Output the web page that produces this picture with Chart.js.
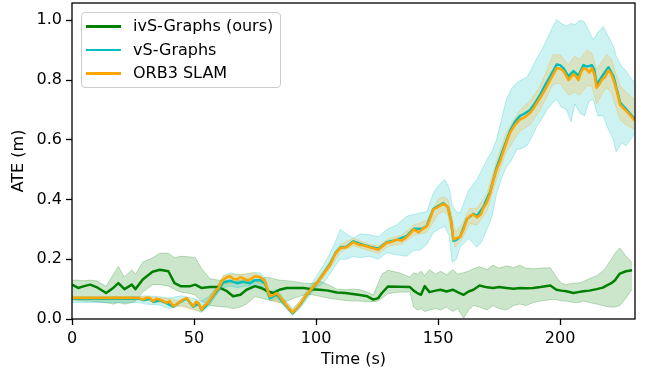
<!DOCTYPE html>
<html lang="en">
<head>
<meta charset="UTF-8">
<title>ATE over time</title>
<style>
    body { margin: 0; background: #fff; }
    #wrap { position: relative; width: 646px; height: 374px; }
    #legend {
        position: absolute; left: 81px; top: 12px; width: 200px; height: 76px;
        border: 1px solid #cccccc; border-radius: 4px; background: rgba(255,255,255,0.8);
        font-family: "DejaVu Sans", sans-serif; font-size: 16px; color: #000;
        box-sizing: border-box;
    }
    #legend .row { position: absolute; left: 0; height: 20px; width: 100%; }
    #legend .swatch { position: absolute; left: 4px; top: 9px; width: 35px; height: 2.5px; }
    #legend .txt { position: absolute; left: 51px; top: 0; line-height: 20px; white-space: nowrap; }
</style>
</head>
<body>
<div id="wrap">
    <canvas id="ate_chart" width="646" height="374"></canvas>
    <div id="legend"></div>
</div>

<script src="https://cdn.jsdelivr.net/npm/chart.js"></script>
<script>
// ---- data: [time (s), ATE (m)] ----
var ivsMean = [[0,.115],[2.5,.104],[5,.11],[7.5,.115],[10,.107],[14,.087],[17,.105],[19,.12],[21.5,.10],[24.5,.115],[26,.10],[29,.132],[33,.158],[36,.165],[39.5,.16],[42,.12],[44.5,.11],[48.5,.11],[50.5,.115],[53,.104],[56.5,.107],[60,.107],[63.5,.093],[66,.076],[69,.081],[71.5,.098],[75,.11],[77.5,.104],[80,.093],[82.5,.087],[85,.098],[88,.104],[91,.104],[95,.104],[98,.10],[101.5,.098],[105,.095],[108.5,.089],[112,.087],[115,.084],[118,.08],[121,.076],[123.5,.065],[125.5,.07],[127,.087],[129.5,.109],[134,.108],[138.5,.107],[140,.095],[141.5,.087],[143,.081],[144.5,.11],[146.5,.09],[149,.095],[151,.098],[153.5,.092],[156,.098],[158,.09],[160.5,.081],[162.5,.092],[164.5,.098],[167,.112],[170,.106],[172.5,.104],[175,.107],[178,.104],[181,.101],[183.5,.104],[186,.103],[189,.104],[192,.107],[196,.112],[198.5,.098],[200.5,.095],[202.5,.093],[205.5,.087],[207.5,.09],[209.5,.093],[212,.095],[215,.10],[217.5,.105],[219,.112],[221,.12],[222.5,.13],[224.5,.152],[227,.16],[229.5,.163]];

var vsMean = [[0,.068],[27.5,.068],[29.2,.063],[32,.068],[33.3,.057],[36,.063],[38.8,.052],[41.5,.041],[44.3,.057],[47,.068],[49.7,.041],[51.8,.052],[53.1,.03],[55.2,.046],[57.9,.078],[60,.1],[62,.122],[64.8,.128],[67.5,.12],[70.2,.125],[73,.12],[75,.13],[77,.13],[79.1,.12],[81.1,.07],[83.9,.082],[86.6,.055],[88.7,.035],[90.4,.02],[93.4,.046],[96.2,.08],[100.3,.12],[103,.152],[105.7,.183],[108,.222],[110,.24],[112.5,.242],[115.3,.26],[119.4,.248],[122,.242],[125.5,.235],[129,.257],[133,.265],[137.2,.278],[140,.302],[143.5,.302],[145.4,.312],[148,.368],[150,.378],[152.2,.388],[154,.375],[155.3,.33],[156.3,.262],[157.5,.265],[159,.275],[161.8,.335],[164.5,.352],[166,.345],[168.6,.376],[171.3,.425],[174,.507],[176.8,.57],[179.5,.63],[181.5,.66],[183.6,.68],[185.5,.688],[187.7,.70],[189.5,.72],[191.8,.75],[194,.785],[195.9,.812],[198.6,.852],[200,.85],[201.4,.84],[203.4,.812],[205.5,.83],[207.5,.815],[209.6,.85],[211,.845],[213,.85],[214,.835],[215,.785],[217,.81],[219.8,.843],[221.9,.812],[224.6,.725],[227.3,.70],[230.5,.67]];

var orbMean = [[0,.07],[5,.07],[10,.07],[15,.07],[20,.07],[25,.07],[27.5,.07],[29.2,.065],[30.5,.072],[32,.07],[33.3,.059],[34.5,.068],[36,.065],[37.5,.06],[38.8,.054],[40,.06],[41.5,.043],[43,.05],[44.3,.059],[45.5,.065],[47,.07],[48.5,.055],[49.7,.043],[50.8,.058],[51.8,.054],[53.1,.031],[54.2,.045],[55.2,.048],[56.6,.065],[57.9,.081],[59,.095],[60,.104],[61,.12],[62,.132],[63.5,.14],[64.8,.143],[66,.135],[67.5,.132],[69,.14],[70.2,.137],[71.5,.13],[73,.132],[74,.138],[75,.143],[77,.141],[78,.135],[79.1,.126],[80,.1],[81.1,.076],[82.5,.08],[83.9,.087],[85.2,.075],[86.6,.059],[88.7,.037],[90.4,.022],[92,.035],[93.4,.048],[94.8,.065],[96.2,.081],[98,.1],[100.3,.12],[103,.15],[105.7,.18],[108,.22],[110,.238],[112.5,.24],[115.3,.257],[117,.25],[119.4,.246],[122,.24],[125.5,.232],[127.5,.245],[129,.255],[131,.258],[133,.266],[135,.262],[137.2,.275],[138.5,.285],[140,.3],[142,.29],[143.5,.3],[145.4,.31],[146.5,.33],[148,.366],[150,.375],[152.2,.386],[154,.375],[155.3,.33],[156.3,.266],[157.5,.27],[159,.275],[160.5,.3],[161.8,.333],[163,.345],[164.5,.35],[166,.34],[167.5,.35],[168.6,.372],[170,.39],[171.3,.42],[172.5,.46],[174,.5],[175.5,.53],[176.8,.561],[178,.59],[179.5,.623],[181.5,.65],[183.6,.668],[185.5,.675],[187.7,.69],[189.5,.71],[191.8,.74],[194,.77],[195.9,.8],[197.3,.82],[198.6,.84],[200,.838],[201.4,.83],[202.5,.815],[203.4,.8],[204.5,.81],[205.5,.82],[206.5,.812],[207.5,.8],[208.5,.825],[209.6,.84],[211,.835],[212,.825],[213,.84],[214,.82],[215,.774],[216,.785],[217,.8],[218.5,.81],[219.8,.833],[221,.82],[221.9,.8],[223,.77],[224.6,.718],[226,.705],[227.3,.695],[229,.68],[230.5,.665]];

// ---- spread bands: [time (s), lower, upper] ----
var ivsBand = [[0,.065,.13],[2.5,.062,.13],[5,.06,.128],[7.5,.06,.13],[10,.058,.128],[14,.055,.11],[17,.05,.15],[19,.055,.176],[21.5,.05,.14],[24.5,.055,.165],[26,.06,.15],[29,.09,.19],[33,.115,.205],[36,.115,.22],[39.5,.11,.22],[42,.1,.205],[44.5,.09,.21],[48.5,.085,.208],[50.5,.08,.205],[53,.06,.17],[56.5,.045,.135],[60,.042,.13],[63.5,.04,.13],[66,.035,.125],[69,.04,.13],[71.5,.05,.135],[75,.075,.13],[77.5,.07,.135],[80,.065,.14],[82.5,.06,.135],[85,.055,.13],[88,.06,.128],[91,.07,.125],[95,.08,.12],[98,.082,.118],[101.5,.076,.126],[105,.07,.115],[108.5,.066,.10],[112,.062,.098],[115,.06,.1],[118,.06,.098],[121,.058,.09],[123.5,.058,.08],[125.5,.06,.12],[127,.07,.15],[129.5,.085,.163],[134,.09,.155],[138.5,.09,.14],[140,.04,.155],[141.5,.03,.15],[143,.035,.16],[144.5,.025,.145],[146.5,.03,.165],[149,.035,.15],[151,.03,.16],[153.5,.04,.148],[156,.025,.165],[158,.035,.15],[160.5,.003,.155],[162.5,.03,.16],[164.5,.045,.168],[167,.04,.175],[170,.03,.165],[172.5,.045,.18],[175,.035,.17],[178,.03,.178],[181,.045,.172],[183.5,.05,.18],[186,.045,.17],[189,.055,.168],[192,.06,.17],[196,.065,.172],[198.5,.065,.14],[200.5,.06,.12],[202.5,.06,.115],[205.5,.055,.12],[207.5,.055,.12],[209.5,.06,.125],[212,.055,.135],[215,.05,.145],[217.5,.045,.16],[219,.042,.175],[221,.04,.2],[222.5,.04,.22],[224.5,.045,.238],[227,.07,.21],[229.5,.1,.19]];

var vsBand = [[0,.055,.075],[27.5,.055,.075],[30,.05,.078],[35,.048,.075],[40,.035,.07],[45,.045,.078],[50,.032,.068],[53,.022,.06],[56,.04,.075],[58,.065,.095],[60,.088,.118],[62,.105,.145],[65,.11,.155],[68,.105,.148],[71,.11,.15],[74,.11,.155],[77,.108,.155],[79,.1,.14],[81,.06,.09],[84,.07,.1],[86.6,.045,.07],[90.4,.012,.035],[93.4,.035,.06],[96.2,.065,.095],[100,.105,.14],[103,.12,.18],[105.7,.15,.22],[108,.18,.26],[110,.2,.30],[112.5,.2,.285],[115.3,.21,.27],[118,.205,.285],[122,.21,.282],[125.5,.2,.275],[129,.222,.30],[133,.215,.315],[137.2,.21,.344],[140,.23,.35],[142.6,.23,.355],[145.4,.25,.36],[148,.288,.42],[150,.30,.445],[152.7,.31,.467],[154.5,.28,.44],[155.8,.19,.38],[157.5,.2,.36],[159,.24,.355],[162.5,.27,.43],[165.9,.24,.467],[168,.26,.5],[170,.30,.533],[172,.34,.56],[174,.42,.60],[176,.47,.67],[178,.51,.735],[180,.53,.77],[182.2,.567,.79],[184,.57,.80],[186.4,.58,.81],[188.5,.61,.84],[190.5,.645,.874],[192.5,.67,.9],[194.6,.70,.936],[196.5,.72,.97],[198.6,.735,1.003],[200.5,.71,.99],[202.7,.70,.98],[204.5,.66,.99],[206,.72,.985],[208.1,.69,1.0],[210,.68,.995],[212,.73,.96],[213.6,.735,.936],[215.5,.68,.96],[217.7,.68,.98],[219.5,.64,.95],[221.8,.60,.915],[223,.56,.88],[225.2,.59,.846],[227,.58,.83],[230.5,.62,.79]];

var orbBand = [[0,.065,.075],[27.5,.065,.075],[40,.05,.068],[53,.025,.04],[58,.07,.09],[62,.115,.145],[66,.12,.15],[70,.12,.15],[75,.125,.155],[79,.115,.135],[81,.068,.085],[86.6,.05,.068],[90.4,.015,.03],[96,.072,.09],[100.3,.11,.13],[105.7,.17,.195],[110,.225,.25],[115.3,.245,.27],[122,.228,.25],[125.5,.22,.245],[130,.245,.27],[135,.25,.28],[140,.28,.315],[145.4,.29,.33],[150,.35,.40],[152.2,.36,.41],[154,.35,.40],[155.5,.29,.35],[157,.24,.29],[160,.27,.32],[163,.32,.37],[166,.315,.37],[170,.36,.42],[174,.47,.53],[178,.56,.625],[183.6,.63,.70],[187.7,.65,.73],[191.8,.70,.78],[195,.75,.84],[197,.785,.885],[200,.79,.885],[203.4,.75,.85],[206,.76,.88],[208,.75,.87],[211,.78,.90],[213,.78,.89],[215,.72,.835],[217,.75,.86],[219,.775,.885],[221,.76,.87],[222.5,.72,.83],[224.6,.668,.78],[227,.65,.76],[230.5,.635,.735]];

var seriesNames = ['ivS-Graphs (ours)', 'vS-Graphs', 'ORB3 SLAM'];
var yTicks = [0, 0.2, 0.4, 0.6, 0.8, 1.0];
var xTicks = [0, 50, 100, 150, 200];

var GREEN = '#008000', CYAN = '#00bfbf', ORANGE = '#ffa500';
var FONT = { family: 'DejaVu Sans', size: 16 };

function line(label, pts, color, order) {
    return {
        label: label,
        data: pts.map(function (p) { return { x: p[0], y: p[1] }; }),
        borderColor: color, backgroundColor: color,
        borderWidth: 2.5, pointRadius: 0, tension: 0, fill: false,
        borderJoinStyle: 'round', order: order
    };
}

// two datasets per band: lower edge, then upper edge filled back to it
function band(rows, rgb, order) {
    var edge = 'rgba(' + rgb + ',0.25)';
    return [{
        label: '_lo',
        data: rows.map(function (r) { return { x: r[0], y: r[1] }; }),
        borderColor: edge, borderWidth: 1, pointRadius: 0, fill: false, order: order
    }, {
        label: '_hi',
        data: rows.map(function (r) { return { x: r[0], y: r[2] }; }),
        borderColor: edge, borderWidth: 1, pointRadius: 0,
        backgroundColor: 'rgba(' + rgb + ',0.2)', fill: '-1', order: order
    }];
}

var datasets = [
    line(seriesNames[0], ivsMean, GREEN, 2),
    line(seriesNames[1], vsMean, CYAN, 1),
    line(seriesNames[2], orbMean, ORANGE, 0)
].concat(band(ivsBand, '0,128,0', 7), band(vsBand, '0,191,191', 6), band(orbBand, '255,165,0', 5));

// box round the plot, like the matplotlib frame
var frame = {
    id: 'frame',
    afterDatasetsDraw: function (chart) {
        var a = chart.chartArea, ctx = chart.ctx;
        ctx.save();
        ctx.strokeStyle = '#000';
        ctx.lineWidth = 1.3;
        ctx.strokeRect(a.left, a.top, a.right - a.left, a.bottom - a.top);
        ctx.restore();
    }
};

Chart.defaults.font.family = 'DejaVu Sans';
Chart.defaults.color = '#000';

new Chart(document.getElementById('ate_chart'), {
    type: 'line',
    data: { datasets: datasets },
    options: {
        responsive: false,
        animation: false,
        layout: { padding: { top: 3, right: 11, left: 0, bottom: 0 } },
        plugins: { legend: { display: false }, tooltip: { enabled: false } },
        scales: {
            x: {
                type: 'linear', min: 0, max: 230.7,
                afterFit: function (s) { s.height = 55; s.paddingLeft = 0; s.paddingRight = 0; },
                afterBuildTicks: function (s) { s.ticks = xTicks.map(function (v) { return { value: v }; }); },
                ticks: { font: FONT, padding: 4, maxRotation: 0 },
                grid: { drawOnChartArea: false, drawTicks: true, tickLength: 6, tickColor: '#000', tickWidth: 1.3 },
                border: { display: false },
                title: { display: true, text: 'Time (s)', font: FONT, padding: { top: 5, bottom: 5 } }
            },
            y: {
                type: 'linear', min: 0, max: 1.058,
                afterFit: function (s) { s.width = 72; s.paddingTop = 0; s.paddingBottom = 0; },
                afterBuildTicks: function (s) { s.ticks = yTicks.map(function (v) { return { value: v }; }); },
                ticks: { font: FONT, padding: 4, callback: function (v) { return v.toFixed(1); } },
                grid: { drawOnChartArea: false, drawTicks: true, tickLength: 6, tickColor: '#000', tickWidth: 1.3 },
                border: { display: false },
                title: { display: true, text: 'ATE (m)', font: FONT, padding: { top: 9, bottom: 9 } }
            }
        }
    },
    plugins: [frame]
});

// legend box in the upper left corner of the plot
var legend = document.getElementById('legend');
[GREEN, CYAN, ORANGE].forEach(function (c, i) {
    var row = document.createElement('div');
    row.className = 'row';
    row.style.top = (3 + i * 23.5) + 'px';
    row.innerHTML = '<span class="swatch" style="background:' + c + '"></span><span class="txt">' + seriesNames[i] + '</span>';
    legend.appendChild(row);
});
</script>
</body>
</html>
